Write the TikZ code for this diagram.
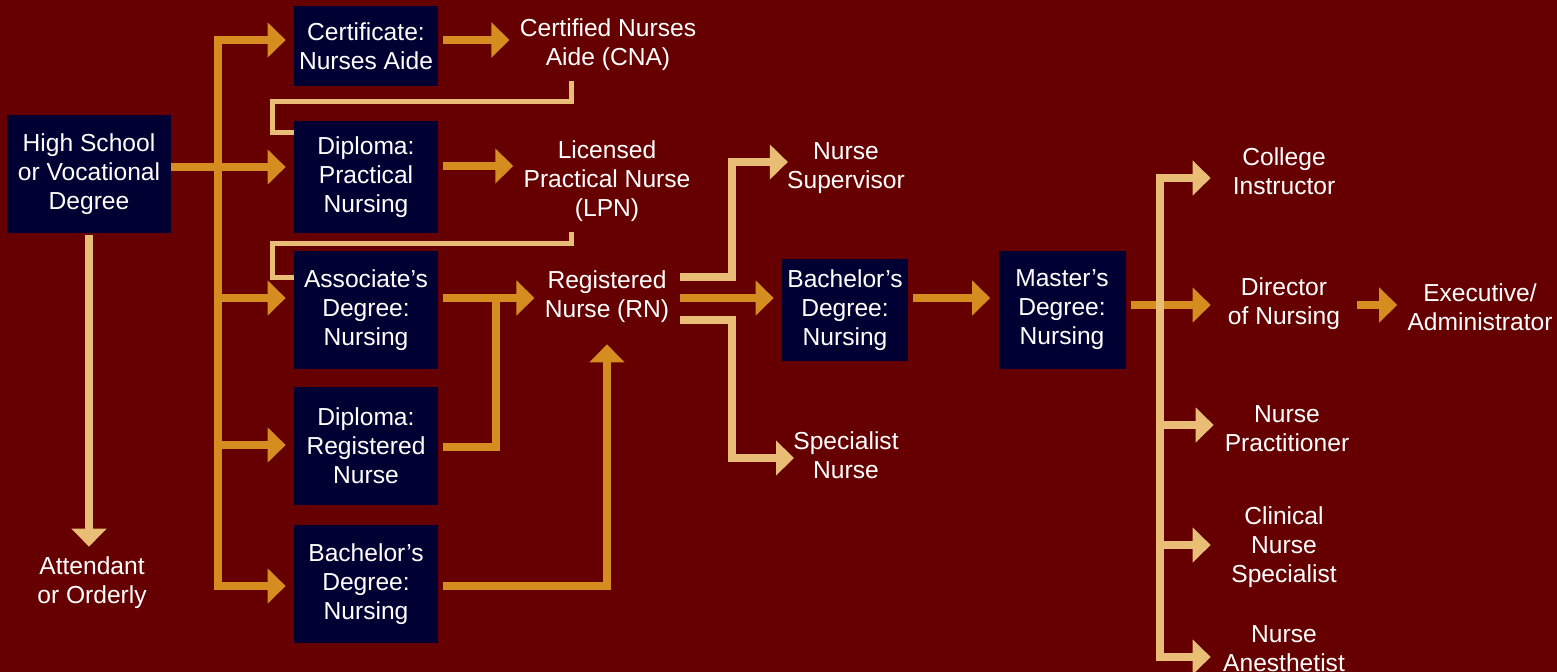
\documentclass[tikz,border=0pt]{standalone}
\usepackage{fontspec}
\setmainfont{Liberation Sans}
\usetikzlibrary{arrows.meta}
\definecolor{bg}{HTML}{660000}
\definecolor{navy}{HTML}{000033}
\definecolor{gold}{HTML}{D68D1F}
\definecolor{sand}{HTML}{E9BD76}
\tikzset{
  degree/.style={fill=navy, text=white, align=center, inner sep=0pt, minimum width=2.88cm, minimum height=2.36cm},
  career/.style={text=white, align=center, inner sep=0.2cm},
  role/.style={career, minimum width=2.92cm},
  pathline/.style={draw=gold, line width=0.16cm},
  pathway/.style={pathline, -{Triangle[length=0.36cm,width=0.68cm]}},
  branch/.style={draw=sand, line width=0.16cm, -{Triangle[length=0.36cm,width=0.68cm]}},
  feed/.style={draw=sand, line width=0.1cm},
  frombox/.style={shorten <=0.1cm},
  tobox/.style={shorten >=0.16cm}
}
\begin{document}
\begin{tikzpicture}[x=0.02cm, y=-0.02cm, every node/.style={font=\fontsize{14}{16.5}\selectfont}]
  \fill[bg] (0,0) rectangle (1557,672);
  \useasboundingbox (0,0) rectangle (1557,672);
  % degree boxes
  \node[degree, minimum width=3.28cm] (hs) at (89,174) {High School\\or Vocational\\Degree};
  \node[degree, minimum height=1.62cm] (cert) at (366,46) {Certificate:\\Nurses Aide};
  \node[degree, minimum height=2.24cm] (dippn) at (366,177) {Diploma:\\Practical\\Nursing};
  \node[degree] (assoc) at (366,310) {Associate’s\\Degree:\\Nursing};
  \node[degree] (diprn) at (366,446) {Diploma:\\Registered\\Nurse};
  \node[degree] (bachl) at (366,584) {Bachelor’s\\Degree:\\Nursing};
  \node[degree, minimum width=2.52cm, minimum height=2.06cm] (bach) at (845,310) {Bachelor’s\\Degree:\\Nursing};
  \node[degree, minimum width=2.54cm] (master) at (1062,310) {Master’s\\Degree:\\Nursing};
  % careers
  \node[career] (cna) at (608,45) {Certified Nurses\\Aide (CNA)};
  \node[career] (lpn) at (607,181) {Licensed\\Practical Nurse\\(LPN)};
  \node[career] (rn) at (607,297) {Registered\\Nurse (RN)};
  \node[career] (sup) at (846,168) {Nurse\\Supervisor};
  \node[career] (spec) at (846,455) {Specialist\\Nurse};
  \node[career] (att) at (92,583) {Attendant\\or Orderly};
  \node[role] (coll) at (1284,171) {College\\Instructor};
  \node[role] (dir) at (1284,304) {Director\\of Nursing};
  \node[career] (exec) at (1480,307) {Executive/\\Administrator};
  \node[role] (np) at (1287,429) {Nurse\\Practitioner};
  \node[role] (cns) at (1284,547) {Clinical\\Nurse\\Specialist};
  \node[role] (anest) at (1284,649) {Nurse\\Anesthetist};
  \coordinate (fork) at (218,167);
  \coordinate (hub) at (1160,305);
  % thin returns
  \draw[feed] (571,0 |- cna.south) |- (272,102) |- (dippn.west |- 0,133);
  \draw[feed] (571,0 |- lpn.south) |- (272,243) |- (assoc.west |- 0,277);
  % entry paths
  \draw[pathway, tobox] (hs.east |- fork) -- (dippn.west |- fork);
  \draw[pathway, tobox] (fork |- 0,586) -- (fork |- 0,40) -- (cert.west |- 0,40);
  \draw[pathway, tobox] (fork |- 0,40) -- (fork |- 0,586) -- (bachl.west |- 0,586);
  \draw[pathway, tobox] (fork |- 0,298) -- (assoc.west |- 0,298);
  \draw[pathway, tobox] (fork |- 0,445) -- (diprn.west |- 0,445);
  \draw[pathway, frombox] (cert.east |- 0,40) -- (cna.west |- 0,40);
  \draw[pathway, frombox] (dippn.east |- 0,166) -- (lpn.west |- 0,166);
  \draw[pathway, frombox] (assoc.east |- 0,298) -- (rn.west |- 0,298);
  \draw[pathline, frombox] (diprn.east |- 0,447) -| (496,298);
  \draw[pathway, frombox, shorten >=0.22cm] (bachl.east |- 0,586) -| (rn.south);
  \draw[branch, shorten <=0.04cm] (hs.south) -- (hs.south |- att.north);
  % registered nurse onwards
  \draw[branch, shorten >=-0.22cm] (rn.east |- 0,277) -- ++(52,0) |- (sup.west |- 0,162);
  \draw[branch, shorten >=-0.22cm] (rn.east |- 0,320) -- ++(52,0) |- (spec.west |- 0,458);
  \draw[pathway, tobox] (rn.east |- 0,298) -- (bach.west |- 0,298);
  \draw[pathway, frombox, tobox] (bach.east |- 0,298) -- (master.west |- 0,298);
  \draw[pathway, frombox] (master.east |- hub) -- (dir.west |- hub);
  \draw[pathway] (dir.east |- hub) -- (exec.west |- hub);
  \draw[branch] (hub |- 0,657) -- (hub |- 0,178) -- (coll.west |- 0,178);
  \draw[branch] (hub |- 0,178) -- (hub |- 0,657) -- (anest.west |- 0,657);
  \draw[branch] (hub |- 0,425) -- (np.west |- 0,425);
  \draw[branch] (hub |- 0,545) -- (cns.west |- 0,545);
\end{tikzpicture}
\end{document}
